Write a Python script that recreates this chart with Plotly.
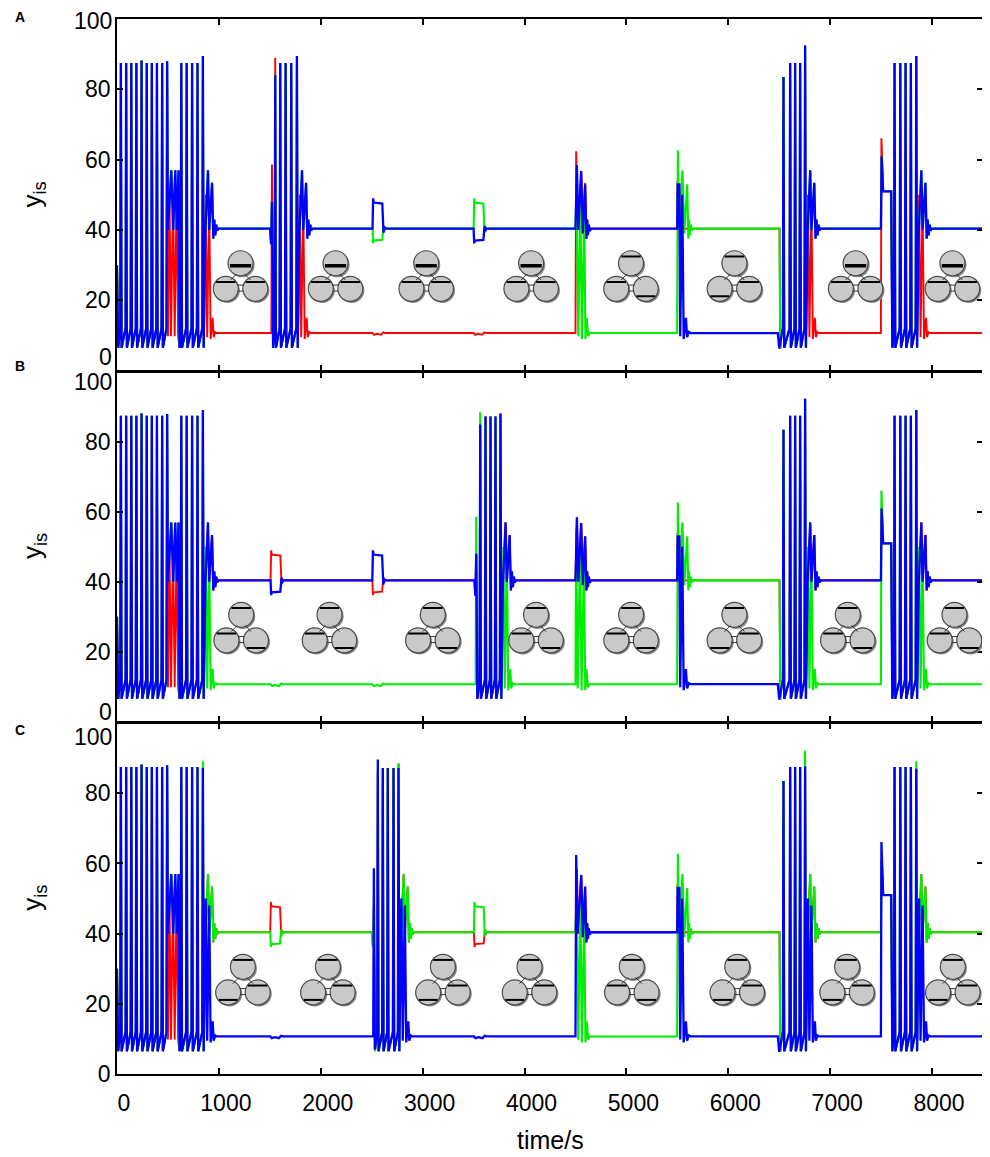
import plotly.graph_objects as go

HIGH, LOW = 40.4, 10.7
T_END = 8500

# ---- opening bursts, identical for every cell in every panel ----
START_T = [0, 12]
START_Y = [30.0, 6.5]
TRAIN1_T = [38, 90, 140, 190, 241, 292, 342, 392, 443, 492]
TRAIN1_P = [87.5, 87.5, 87.5, 87.5, 88.2, 87.5, 87.5, 87.5, 87.5, 88.0]
MID_HI_T = [500, 533, 552, 572, 588, 604, 614]
MID_HI_Y = [40.0, 57.0, 40.0, 57.0, 40.0, 57.0, 6.5]
MID_LO_T = [500, 515, 530, 550, 566, 585, 600, 614]
MID_LO_Y = [9.8, 50.0, 9.8, 50.0, 9.8, 50.0, 9.8, 6.5]
TRAIN2_T = [631, 684, 737, 790, 843]
TRAIN2_P = [87.5, 87.5, 87.5, 87.5]          # last peak is given per panel

# settling after a burst (offsets from the last spike)
HI_END_DT = [8, 25, 50, 62, 90, 102, 112, 122, 132, 140, 150]
HI_END_Y = [6.5, 40.0, 57.0, 40.0, 53.4, 37.5, 43.0, 38.5, 41.5, 39.8, 40.4]
LO_END_DT = [8, 28, 42, 62, 76, 96, 106, 120, 135]
LO_END_Y = [6.5, 50.0, 9.5, 48.0, 9.0, 15.0, 9.5, 11.0, 10.7]

# short pulses at ~1500/2500/3500 s (offsets from pulse start)
BOX_DT = [0, 6, 12, 96, 102, 108, 114, 124]
BOX_UP_Y = [40.4, 49.0, 47.8, 47.5, 40.4, 39.2, 41.0, 40.4]
BOX_DN_Y = [40.4, 36.2, 37.0, 37.2, 40.4, 41.2, 39.6, 40.4]
DIP_DT = [0, 15, 45, 85, 105, 125]
DIP_Y = [10.7, 10.2, 10.5, 10.2, 10.9, 10.7]
S_PRE_DT = [0, 12, 18, 28]
S_PRE_Y = [10.7, 10.7, 58.6, 7.0]
H_PRE_DT = [0, 9, 18, 29]
H_PRE_Y = [40.4, 36.0, 48.0, 6.5]

# pulse at 4500 s
T45 = 4500
RISE45_DT = [0, 7, 20, 57, 72, 95, 107, 115, 123, 131, 140, 155]
RISE45_Y = [10.7, 62.4, 40.0, 56.7, 39.0, 53.4, 37.5, 43.0, 38.5, 41.5, 39.8, 40.4]
STAY45_DT = [0, 14, 28, 56, 72, 95, 107, 115, 123, 131, 140, 155]
STAY45_Y = [40.4, 58.5, 40.0, 56.8, 39.0, 53.0, 37.5, 43.0, 38.5, 41.5, 39.8, 40.4]
FALL45_DT = [0, 10, 28, 48, 63, 86, 98, 110, 125, 140]
FALL45_Y = [40.4, 50.0, 9.8, 50.0, 9.0, 45.0, 9.0, 15.0, 9.8, 10.7]
BOUNCE45_DT = [0, 7, 22, 45, 60, 83, 96, 108, 122, 140]
BOUNCE45_Y = [10.7, 55.0, 9.5, 50.0, 9.0, 45.0, 9.0, 15.0, 9.8, 10.7]

# pulse at 5500 s
T55 = 5498
RISE55_DT = [0, 7, 20, 52, 70, 99, 110, 118, 126, 134, 142, 155]
RISE55_Y = [10.7, 62.7, 40.0, 57.0, 39.0, 53.0, 37.5, 43.0, 38.5, 41.5, 39.8, 40.4]
FALL55_DT = [0, 5, 22, 30, 50, 64, 86, 98, 115, 135]
FALL55_Y = [40.4, 53.0, 53.0, 9.8, 50.0, 9.0, 15.0, 9.5, 11.0, 10.7]
BLIP55_DT = [0, 4, 14]
BLIP55_Y = [40.4, 54.0, 40.4]

# burst at 6500 s
T65_0 = 6486
DIP65_DT = [0, 14, 36]
DIP65_Y = [10.7, 6.3, 10.0]
DROP65_DT = [0, 17, 24, 36]
DROP65_Y = [40.4, 40.4, 6.3, 10.0]
T65 = [6542, 6607, 6656, 6705, 6754]
T65_P = [83.5, 87.5, 87.5, 87.5]

# burst at 7500 s
T75_0 = 7498
S75_DT = [0, 5, 22, 101, 112]
S75_Y = [10.7, 66.1, 51.0, 51.0, 6.5]
H75_DT = [0, 7, 22, 101, 112]
H75_Y = [40.4, 61.0, 51.0, 51.0, 6.5]
T75 = [7632, 7688, 7740, 7792, 7845]
T75_P = [87.5, 87.5, 87.5, 87.5]

# ---- per panel: what each cell does at each stimulus ----
# order: after opening, ~1500, ~2500, ~3500, 4500, 5500, 6500 start, 6500 end, 7500
A_ROLES = {
    "red":   ["lo", "S", "dip", "dip", "rise", "blip", "drop", "lo", "S"],
    "green": ["hi", "H", "down", "up", "fall", "rise", "drop", "hi", "H"],
    "blue":  ["hi", "H", "up", "down", "stay", "fall", "dip", "hi", "H"],
}
A_STIM_T = [1503, 2508, 3500]
A_BURST_T = [1553, 1602, 1655, 1710, 1766]
A_BURST_S = [89.0, 87.5, 87.5, 87.5, 89.5]
A_BURST_H = [84.0, 87.5, 87.5, 87.5, 89.5]
A_LAST = {"red": [89.5, 92.5, 89.5], "green": [89.5, 92.5, 89.5], "blue": [89.5, 92.5, 89.5]}

B_ROLES = {
    "red":   ["hi", "up", "down", "H", "stay", "blip", "drop", "hi", "H"],
    "green": ["lo", "dip", "dip", "S", "bounce", "rise", "drop", "lo", "S"],
    "blue":  ["hi", "down", "up", "H", "stay", "fall", "dip", "hi", "H"],
}
B_STIM_T = [1507, 2506, 3508]
B_BURST_T = [3565, 3617, 3666, 3715, 3764]
B_BURST_S = [88.5, 87.3, 87.3, 87.3, 87.3]
B_BURST_H = [85.0, 87.3, 87.3, 87.3, 88.2]
B_LAST = {"red": [89.2, 92.4, 89.2], "green": [89.2, 92.4, 89.2], "blue": [89.2, 92.4, 89.2]}

C_ROLES = {
    "red":   ["hi", "up", "H", "down", "stay", "blip", "drop", "hi", "H"],
    "green": ["hi", "down", "H", "up", "fall", "rise", "drop", "hi", "H"],
    "blue":  ["lo", "dip", "S", "dip", "rise", "fall", "dip", "lo", "S"],
}
C_STIM_T = [1504, 2503, 3503]
C_BURST_T = [2560, 2609, 2658, 2714, 2763]
C_BURST_S = [89.6, 87.2, 87.2, 87.2, 87.2]
C_BURST_H = [86.0, 87.2, 87.2, 87.2, 88.5]
C_LAST = {"red": [87.2, 87.7, 87.0], "green": [89.1, 92.2, 89.1], "blue": [87.2, 87.7, 87.0]}

# cell-state icons: centre time, bar position in (top, lower-left, lower-right)
ICON_Y = 26.9
A_ICON_T = [1213, 2145, 3035, 4065, 5045, 6060, 7250, 8200]
A_ICON_BARS = ["btt", "btt", "btt", "btt", "ttb", "tbt", "btt", "btt"]
B_ICON_T = [1219, 2086, 3100, 4113, 5046, 6060, 7173, 8220]
B_ICON_BARS = ["ttb", "ttb", "ttb", "ttb", "ttb", "tbt", "ttb", "ttb"]
C_ICON_T = [1236, 2070, 3199, 4049, 5053, 6088, 7166, 8204]
C_ICON_BARS = ["tbt", "tbt", "tbt", "tbt", "ttb", "tbt", "tbt", "tbt"]

COLORS = {"red": "#ff0000", "green": "#00ee00", "blue": "#0000ff"}
WIDTHS = {"red": 1.9, "green": 2.1, "blue": 2.3}
FONT = "Liberation Sans, Arial, Helvetica, sans-serif"


def seq(ts, ys, t0=0):
    return [(t0 + t, y) for t, y in zip(ts, ys)]


def spikes(ts, ps):
    out = []
    for t, p in zip(ts, ps):
        out += [(t - 6, 12.0), (t, p), (t + 7, 6.5)]
    return out[:-1]


def settle(kind, t_last):
    if kind == "hi":
        return seq(HI_END_DT, HI_END_Y, t_last)
    return seq(LO_END_DT, LO_END_Y, t_last)


BOX = {"up": (BOX_DT, BOX_UP_Y), "down": (BOX_DT, BOX_DN_Y), "dip": (DIP_DT, DIP_Y)}
E45 = {"rise": (RISE45_DT, RISE45_Y), "stay": (STAY45_DT, STAY45_Y),
       "fall": (FALL45_DT, FALL45_Y), "bounce": (BOUNCE45_DT, BOUNCE45_Y)}
E55 = {"rise": (RISE55_DT, RISE55_Y), "fall": (FALL55_DT, FALL55_Y), "blip": (BLIP55_DT, BLIP55_Y)}
E65 = {"dip": (DIP65_DT, DIP65_Y), "drop": (DROP65_DT, DROP65_Y)}
E75 = {"S": (S75_DT, S75_Y), "H": (H75_DT, H75_Y)}


def path(color, r, stim_t, burst_t, burst_s, burst_h, last):
    l2, l65, l75 = last
    mid = (MID_LO_T, MID_LO_Y) if color == "red" else (MID_HI_T, MID_HI_Y)
    p = seq(START_T, START_Y) + spikes(TRAIN1_T, TRAIN1_P) + seq(*mid)
    p += spikes(TRAIN2_T, TRAIN2_P + [l2]) + settle(r[0], TRAIN2_T[-1])
    for role, t0 in zip(r[1:4], stim_t):
        if role == "S":
            p += seq(S_PRE_DT, S_PRE_Y, t0) + spikes(burst_t, burst_s) + settle("lo", burst_t[-1])
        elif role == "H":
            p += seq(H_PRE_DT, H_PRE_Y, t0) + spikes(burst_t, burst_h) + settle("hi", burst_t[-1])
        else:
            p += seq(*BOX[role], t0)
    p += seq(*E45[r[4]], T45)
    p += seq(*E55[r[5]], T55)
    p += seq(*E65[r[6]], T65_0) + spikes(T65, T65_P + [l65]) + settle(r[7], T65[-1])
    end75 = "lo" if r[8] == "S" else "hi"
    p += seq(*E75[r[8]], T75_0) + spikes(T75, T75_P + [l75]) + settle(end75, T75[-1])
    p.append((T_END, LOW if end75 == "lo" else HIGH))
    return [q[0] for q in p], [q[1] for q in p]


R = 12.5
CIRCLES = [(0, 12.8), (-14.75, -12.8), (14.75, -12.8)]
LINKS = [(-4, 2, -10, -4), (4, 2, 10, -4), (-3, -9, 3, -9), (-3, -15, 3, -15)]


def icon_shapes(t, bars, xr, yr):
    c = dict(xref=xr, yref=yr, xsizemode="pixel", ysizemode="pixel", xanchor=t, yanchor=ICON_Y)
    out = []
    for cx, cy in CIRCLES:
        out.append(dict(type="circle", x0=cx - R + 1.6, x1=cx + R + 1.6, y0=cy - R - 1.6,
                        y1=cy + R - 1.6, fillcolor="#8a8a8a", line=dict(width=0), **c))
    for i, ((cx, cy), b) in enumerate(zip(CIRCLES, bars)):
        out.append(dict(type="circle", x0=cx - R, x1=cx + R, y0=cy - R, y1=cy + R,
                        fillcolor="#c9c9c9", line=dict(color="#4a4a4a", width=1.2), **c))
        if b == "t":
            yb, hw, w = cy + 0.55 * R, 0.78 * R, 2
        elif i == 0:
            yb, hw, w = cy - 0.2 * R, 0.85 * R, 3.5
        else:
            yb, hw, w = cy - 0.6 * R, 0.75 * R, 2
        out.append(dict(type="line", x0=cx - hw, x1=cx + hw, y0=yb, y1=yb,
                        line=dict(color="black", width=w), **c))
    for x0, y0, x1, y1 in LINKS:
        out.append(dict(type="line", x0=x0, x1=x1, y0=y0, y1=y1,
                        line=dict(color="#333333", width=1), **c))
    return out


panels = [
    ("x", "y", A_ROLES, A_STIM_T, A_BURST_T, A_BURST_S, A_BURST_H, A_LAST, A_ICON_T, A_ICON_BARS),
    ("x2", "y2", B_ROLES, B_STIM_T, B_BURST_T, B_BURST_S, B_BURST_H, B_LAST, B_ICON_T, B_ICON_BARS),
    ("x3", "y3", C_ROLES, C_STIM_T, C_BURST_T, C_BURST_S, C_BURST_H, C_LAST, C_ICON_T, C_ICON_BARS),
]

fig = go.Figure()
shapes = []
for xr, yr, roles, st, bt, bs, bh, last, it, ib in panels:
    for color in ["red", "green", "blue"]:
        xs, ys = path(color, roles[color], st, bt, bs, bh, last[color])
        fig.add_trace(go.Scatter(x=xs, y=ys, mode="lines", xaxis=xr, yaxis=yr,
                                 line=dict(color=COLORS[color], width=WIDTHS[color]),
                                 showlegend=False, hoverinfo="skip"))
    for t, b in zip(it, ib):
        shapes += icon_shapes(t, b, xr, yr)

# page body has an 8 px margin, so the figure is a little smaller than the window
W, H = 982, 1149
ML, MR, MT, MB = 109, 7, 11, 83
PLOT_H = H - MT - MB
gap = 1.5 / PLOT_H          # lets the shared frame lines of stacked panels coincide

axis_common = dict(showline=True, linecolor="black", linewidth=1.5, mirror="ticks",
                   ticks="inside", ticklen=6, tickwidth=1.5, tickcolor="black",
                   showgrid=False, zeroline=False, ticklabeloverflow="allow",
                   automargin=False,
                   tickfont=dict(family=FONT, size=23, color="black"))
xticks = list(range(0, 8001, 1000))
domains = [[2 / 3, 1], [1 / 3 + gap / 2, 2 / 3 - gap], [0, 1 / 3 - gap / 2]]
yvals = [[20, 40, 60, 80], [20, 40, 60, 80], [0, 20, 40, 60, 80]]
layout = {}
for i, (xr, yr) in enumerate([("x", "y"), ("x2", "y2"), ("x3", "y3")]):
    xn = "xaxis" if i == 0 else "xaxis%d" % (i + 1)
    yn = "yaxis" if i == 0 else "yaxis%d" % (i + 1)
    layout[xn] = dict(axis_common, range=[0, T_END], tickvals=xticks, anchor=yr,
                      showticklabels=(i == 2), ticklabelshift=7, ticklabelstandoff=8)
    layout[yn] = dict(axis_common, range=[0, 100], domain=domains[i], anchor=xr,
                      tickvals=yvals[i], ticklabelstandoff=0)
    if i < 2:
        layout[xn]["matches"] = "x3"

ann = []
tick_font = dict(family=FONT, size=23, color="black")
# end labels of stacked panels are nudged apart, as in the figure
for yr, yv, shift in [("y", 100, -2), ("y", 0, 14), ("y2", 100, -10), ("y2", 0, 10), ("y3", 100, -14)]:
    ann.append(dict(xref="paper", yref=yr, x=0, y=yv, text=str(yv), showarrow=False,
                    xanchor="right", yanchor="middle", xshift=-3, yshift=shift, font=tick_font))
for yc, letter, yl in [(0.8333, "A", 1.0017), (0.5, "B", 0.6713), (0.1667, "C", 0.3262)]:
    ann.append(dict(xref="paper", yref="paper", x=(34 - 117.4) / 866, y=yc, text="y<sub>is</sub>",
                    textangle=-90, showarrow=False, xanchor="center", yanchor="middle",
                    font=dict(family=FONT, size=26, color="black")))
    ann.append(dict(xref="paper", yref="paper", x=(20 - 117.4) / 866, y=yl, text="<b>%s</b>" % letter,
                    showarrow=False, xanchor="center", yanchor="middle",
                    font=dict(family=FONT, size=14, color="black")))
ann.append(dict(xref="paper", yref="paper", x=0.5, y=-0.0626, text="time/s", showarrow=False,
                xanchor="center", yanchor="middle", font=dict(family=FONT, size=25, color="black")))

fig.update_layout(width=W, height=H, margin=dict(l=ML, r=MR, t=MT, b=MB, autoexpand=False),
                  plot_bgcolor="white", paper_bgcolor="white",
                  shapes=shapes, annotations=ann, **layout)
fig.write_html("out.html")
